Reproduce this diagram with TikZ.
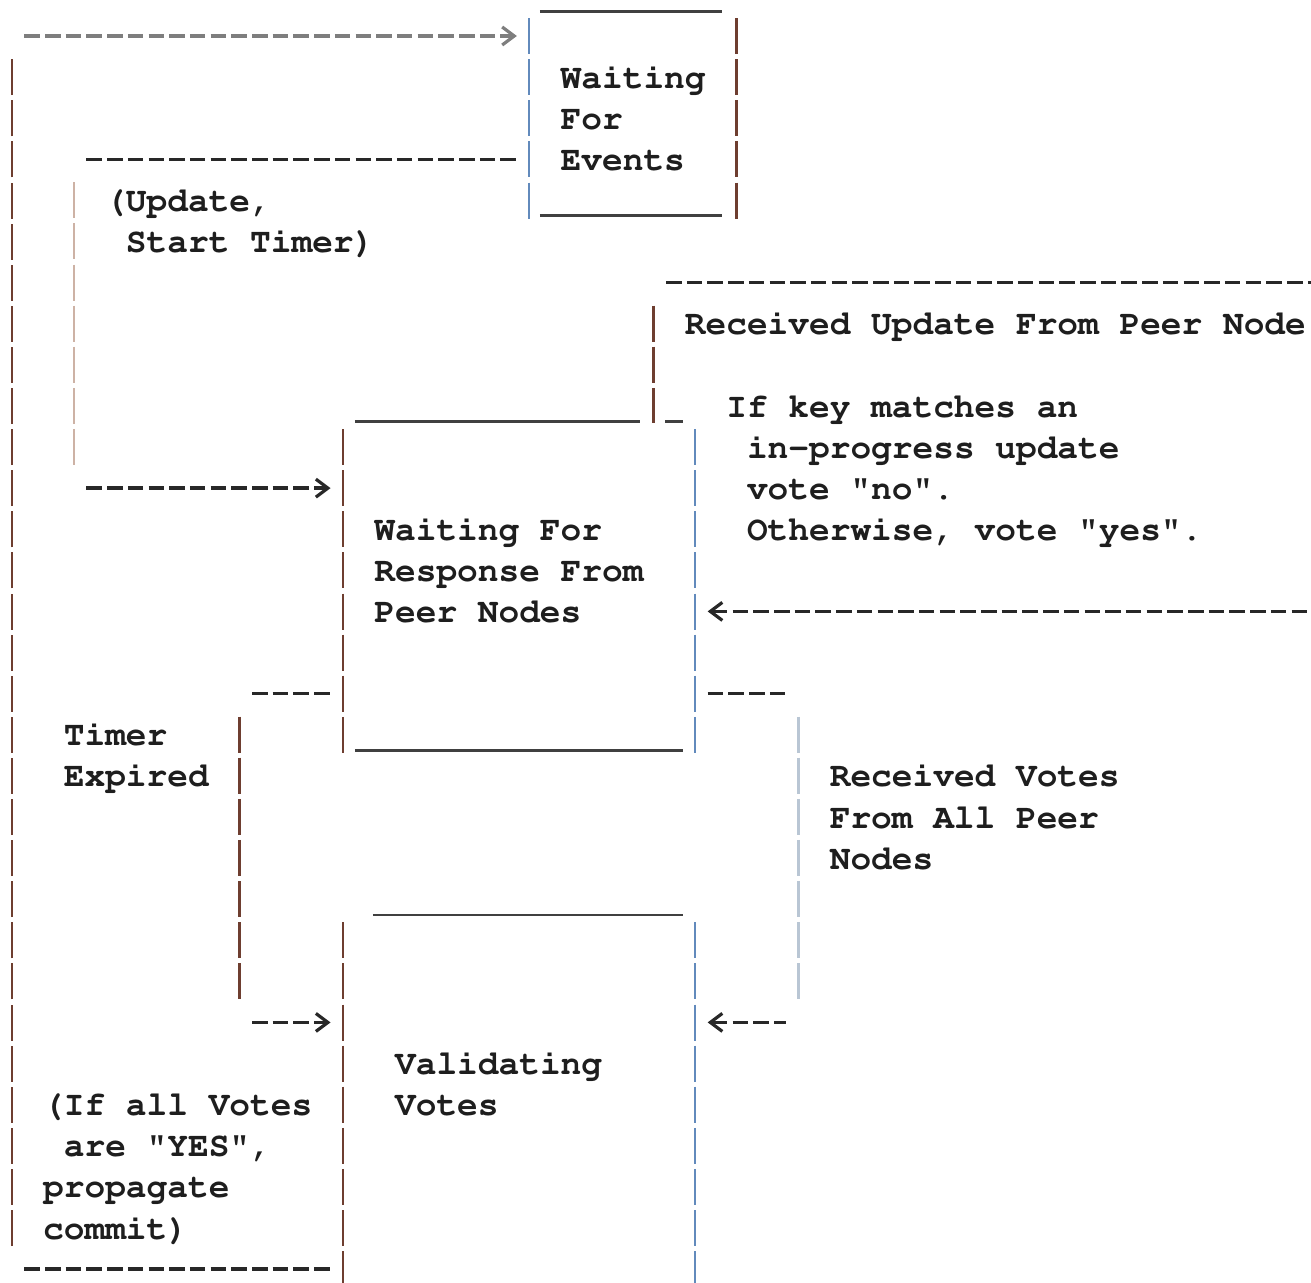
\documentclass[tikz,border=0pt]{standalone}
\usepackage[T1]{fontenc}
\usepackage{courier}
\usetikzlibrary{arrows.meta,fit}

\definecolor{ink}{RGB}{30,30,30}
\definecolor{dashink}{RGB}{40,40,40}
\definecolor{barbrown}{RGB}{110,62,48}
\definecolor{barblue}{RGB}{98,138,188}
\definecolor{palebrown}{RGB}{205,178,165}
\definecolor{paleblue}{RGB}{185,198,212}

\begin{document}
\begin{tikzpicture}[x=20.7pt, y=-41.1pt,
    >={Straight Barb[length=12pt, width=18pt, line width=3.2pt]},
    ascii/.style={font=\fontsize{34.5}{41.1}\selectfont\ttfamily\bfseries, text=ink,
                  inner sep=0pt, align=left, anchor=base west},
    statebox/.style={inner sep=0pt},
    hdash/.style={draw=dashink, line width=3.4pt, dash pattern=on 15.5pt off 5.2pt,
                  shorten <=12.4pt, shorten >=12.4pt},
    vbar/.style={line width=2.4pt, dash pattern=on 36pt off 5.1pt},
    uline/.style={draw=ink!85, line width=2.8pt},
]
\useasboundingbox (-0.077,-0.876) rectangle (63.256,30.34);

% state boxes
\node[statebox, fit={(25.5,-0.43) (35.5,4.446)}] (waitev) {};
\node[statebox, fit={(16.5,9.57) (33.5,17.446)}] (waitresp) {};
\node[statebox, fit={(16.5,21.57) (33.5,30.34)}] (validate) {};

\draw[vbar, barblue] (waitev.north west) -- (waitev.south west);
\draw[vbar, barbrown] (waitev.north east) -- (waitev.south east);
\draw[uline] ([xshift=10.5pt, yshift=6.3pt]waitev.north west) -- ([xshift=-14.5pt, yshift=6.3pt]waitev.north east);
\draw[uline] ([xshift=10.5pt, yshift=3.7pt]waitev.south west) -- ([xshift=-14.5pt, yshift=3.7pt]waitev.south east);

\draw[vbar, barbrown] (waitresp.north west) -- (waitresp.south west);
\draw[vbar, barblue] (waitresp.north east) -- (waitresp.south east);
\draw[uline] ([xshift=12pt, yshift=7.4pt]waitresp.north west) -- ([xshift=-55pt, yshift=7.4pt]waitresp.north east);
\draw[uline] ([xshift=-30pt, yshift=7.4pt]waitresp.north east) -- ([xshift=-12.4pt, yshift=7.4pt]waitresp.north east);
\draw[uline] ([xshift=12pt, yshift=3.1pt]waitresp.south west) -- ([xshift=-12.4pt, yshift=3.1pt]waitresp.south east);

\draw[vbar, barbrown] (validate.north west) -- (validate.south west);
\draw[vbar, barblue] (validate.north east) -- (validate.south east);
\draw[uline] ([xshift=30pt, yshift=7.4pt]validate.north west) -- ([xshift=-12.4pt, yshift=7.4pt]validate.north east);

% box texts (base = last line)
\node[ascii] (waitevtxt) at (27,3.27) {Waiting\\For\\Events};
\node[ascii] (waitresptxt) at (18,14.27) {Waiting For\\Response From\\Peer Nodes};
\node[ascii] (validatetxt) at (19,26.27) {Validating\\Votes};

% transition labels
\node[ascii] (updlbl) at (5,5.27) {(Update,\\\ Start Timer)};
\node[ascii] (peerlbl) at (33,7.27) {Received Update From Peer Node};
\node[ascii] (votelbl) at (35,12.27) {If key matches an\\\ in-progress update\\\ vote "no".\\\ Otherwise, vote "yes".};
\node[ascii] (timerlbl) at (3,18.27) {Timer\\Expired};
\node[ascii] (alllbl) at (40,20.27) {Received Votes\\From All Peer\\Nodes};
\node[ascii] (commitlbl) at (2,29.27) {(If all Votes\\\ are "YES",\\propagate\\commit)};

% loop back to waiting for events
\coordinate (loopbot) at (0.5,30);
\coordinate (looptop) at (0.5,0);
\draw[hdash] (loopbot) -- (validate.west |- loopbot);
\draw[vbar, barbrown, shorten <=23pt, shorten >=23pt] (loopbot) -- (looptop);
\draw[hdash, dashink!60, ->] (looptop) -- (waitev.west |- looptop);

% update, start timer
\coordinate (updtop) at (3.5,3);
\coordinate (updbot) at (3.5,11);
\draw[hdash] (updtop) -- (waitev.west |- updtop);
\draw[vbar, palebrown, shorten <=23pt, shorten >=23pt] (updtop) -- (updbot);
\draw[hdash, ->] (updbot) -- (waitresp.west |- updbot);

% update from peer node and the vote sent back
\coordinate (peerin) at (63.3,6);
\coordinate (peercorner) at (31.5,6);
\coordinate (peerout) at (63.3,14);
\draw[hdash, shorten >=0pt] (peercorner) -- (peerin);
\draw[vbar, barbrown, shorten <=23pt, shorten >=6pt] (peercorner) -- (peercorner |- waitresp.north);
\draw[hdash, <-, shorten >=0pt] (waitresp.east |- peerout) -- (peerout);

% timer expired
\coordinate (timertop) at (11.5,16);
\coordinate (timerbot) at (11.5,24);
\draw[hdash] (timertop) -- (waitresp.west |- timertop);
\draw[vbar, barbrown, shorten <=23pt, shorten >=23pt] (timertop) -- (timerbot);
\draw[hdash, ->] (timerbot) -- (validate.west |- timerbot);

% all votes received
\coordinate (votestop) at (38.5,16);
\coordinate (votesbot) at (38.5,24);
\draw[hdash] (waitresp.east |- votestop) -- (votestop);
\draw[vbar, paleblue, shorten <=23pt, shorten >=23pt] (votestop) -- (votesbot);
\draw[hdash, <-] (validate.east |- votesbot) -- (votesbot);
\end{tikzpicture}
\end{document}
